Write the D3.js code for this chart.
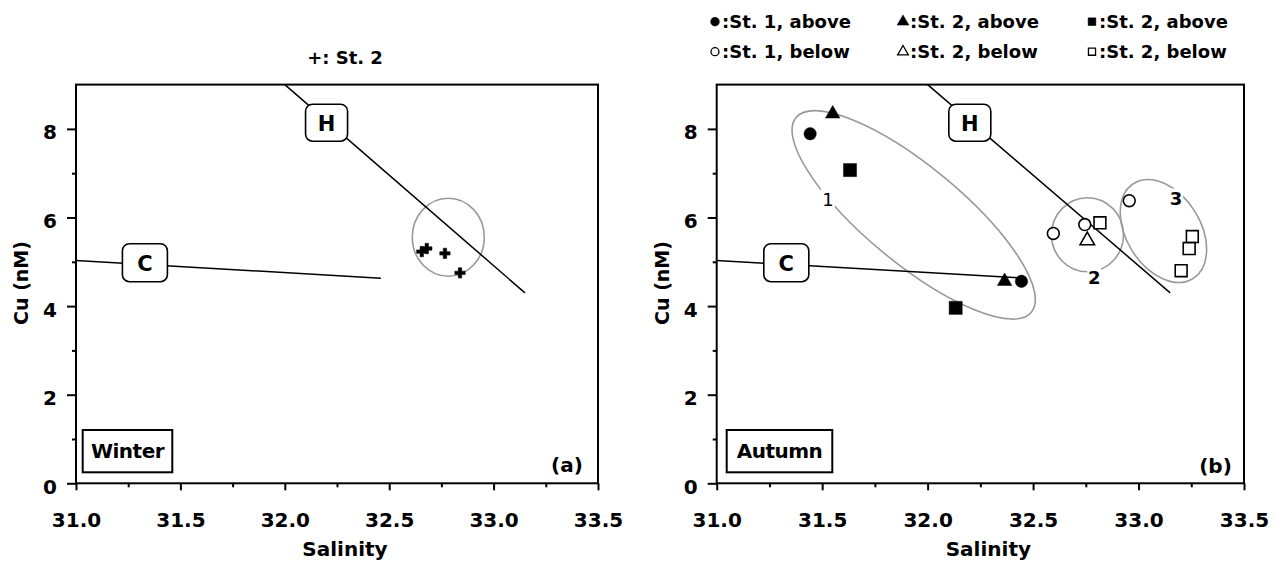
<!DOCTYPE html>
<html><head><meta charset="utf-8">
<script src="https://cdn.jsdelivr.net/npm/d3@7/dist/d3.min.js"></script>
<style>
body{margin:0;background:#fff;}
text{font-family:"DejaVu Sans",sans-serif;font-weight:bold;fill:#000;}
</style>
</head><body>
<svg id="c" width="1284" height="565"></svg>
<script>
// ---------- data ----------
const xTicks = [31.0, 31.5, 32.0, 32.5, 33.0, 33.5];
const xMinor = [31.25, 31.75, 32.25, 32.75, 33.25];
const yTicks = [0, 2, 4, 6, 8];
const yMinor = [1, 3, 5, 7];

// Winter, St. 2 (+)
const winterSal = [32.656, 32.680, 32.767, 32.839];
const winterCu  = [5.23, 5.30, 5.19, 4.75];

// Autumn
const st1AboveSal = [31.443, 32.445];
const st1AboveCu  = [7.89, 4.56];
const st2AboveTriSal = [31.550, 32.365];
const st2AboveTriCu  = [8.34, 4.56];
const st2AboveSqSal = [31.632, 32.133];
const st2AboveSqCu  = [7.07, 3.96];
const st1BelowSal = [32.596, 32.745, 32.956];
const st1BelowCu  = [5.64, 5.84, 6.38];
const st2BelowTriSal = [32.757];
const st2BelowTriCu  = [5.48];
const st2BelowSqSal = [32.817, 33.255, 33.240, 33.202];
const st2BelowSqCu  = [5.88, 5.57, 5.30, 4.80];

// mixing lines
const hLineSal = [32.0, 33.15];
const hLineCu  = [9.0, 4.3];
const cLineSal = [31.0, 32.46];
const cLineCu  = [5.03, 4.63];

// end-member labels
const endLabels = ["H", "C"];
const endLabelSal = [32.20, 31.33];
const endLabelCu  = [8.14, 4.98];

// group labels (autumn)
const groupLabels = ["1", "2", "3"];
const groupSal = [31.527, 32.790, 33.178];
const groupCu  = [6.42, 4.65, 6.43];

// ellipse centres (data)
const winterEllSal = [32.783];
const winterEllCu  = [5.555];
const autumnEllSal = [31.934, 32.758, 33.118];
const autumnEllCu  = [6.06, 5.61, 5.695];

const legendLabels = [":St. 1, above", ":St. 2, above", ":St. 2, above",
                      ":St. 1, below", ":St. 2, below", ":St. 2, below"];

// ---------- drawing ----------
const svg = d3.select("#c");
const yDom = [0, 9];
const yRange = [483.3, 84.6];

function makePanel(x0, x1) {
  const x = d3.scaleLinear().domain([31, 33.5]).range([x0, x1]);
  const y = d3.scaleLinear().domain(yDom).range(yRange);
  const g = svg.append("g");
  // axes
  const xa = g.append("g").attr("transform", `translate(0,${yRange[0]})`)
    .call(d3.axisBottom(x).tickValues(xTicks).tickFormat(d3.format(".1f")).tickSize(7).tickPadding(23));
  const xm = g.append("g").attr("transform", `translate(0,${yRange[0]})`)
    .call(d3.axisBottom(x).tickValues(xMinor).tickFormat("").tickSize(4));
  const ya = g.append("g").attr("transform", `translate(${x0},0)`)
    .call(d3.axisLeft(y).tickValues(yTicks).tickFormat(d3.format("d")).tickSize(9).tickPadding(10));
  const ym = g.append("g").attr("transform", `translate(${x0},0)`)
    .call(d3.axisLeft(y).tickValues(yMinor).tickFormat("").tickSize(4));
  [xa, xm, ya, ym].forEach(a => {
    a.select(".domain").remove();
    a.selectAll("line").attr("stroke", "#000").attr("stroke-width", 2);
    a.selectAll("text").style("font-size", "20px").style("font-family", "DejaVu Sans").style("font-weight", "bold");
  });
  ya.selectAll("text").attr("dy", "0.5em");
  // frame
  g.append("rect").attr("x", x0).attr("y", yRange[1]).attr("width", x1 - x0).attr("height", yRange[0] - yRange[1])
    .attr("fill", "none").attr("stroke", "#000").attr("stroke-width", 2);
  // axis titles
  g.append("text").attr("x", (x0 + x1) / 2 + 8).attr("y", 556).attr("text-anchor", "middle")
    .style("font-size", "20px").text("Salinity");
  g.append("text").attr("transform", `translate(${x0 - 48},${283}) rotate(-90)`).attr("text-anchor", "middle")
    .style("font-size", "19px").text("Cu (nM)");
  return {g, x, y};
}

function drawLines(p) {
  const line = d3.line().x(d => p.x(d[0])).y(d => p.y(d[1]));
  p.g.append("path").datum(d3.zip(hLineSal, hLineCu)).attr("d", line)
    .attr("fill", "none").attr("stroke", "#000").attr("stroke-width", 1.5);
  p.g.append("path").datum(d3.zip(cLineSal, cLineCu)).attr("d", line)
    .attr("fill", "none").attr("stroke", "#000").attr("stroke-width", 1.5);
  const sizes = [[42, 37], [45, 38]];
  endLabels.forEach((t, i) => {
    const cx = p.x(endLabelSal[i]), cy = p.y(endLabelCu[i]);
    const [w, h] = sizes[i];
    p.g.append("rect").attr("x", cx - w / 2).attr("y", cy - h / 2).attr("width", w).attr("height", h)
      .attr("rx", 7).attr("fill", "#fff").attr("stroke", "#000").attr("stroke-width", 1.6);
    p.g.append("text").attr("x", cx).attr("y", cy + 8).attr("text-anchor", "middle")
      .style("font-size", "21px").text(t);
  });
}

function seasonBox(p, x, y, w, h, label) {
  p.g.append("rect").attr("x", x).attr("y", y).attr("width", w).attr("height", h)
    .attr("fill", "#fff").attr("stroke", "#000").attr("stroke-width", 2);
  p.g.append("text").attr("x", x + w / 2).attr("y", y + h / 2 + 7).attr("text-anchor", "middle")
    .style("font-size", "20px").style("letter-spacing", "-0.5px").text(label);
}

function ellipse(p, sal, cu, rx, ry, ang) {
  p.g.append("ellipse").attr("cx", 0).attr("cy", 0).attr("rx", rx).attr("ry", ry)
    .attr("transform", `translate(${p.x(sal)},${p.y(cu)}) rotate(${ang})`)
    .attr("fill", "none").attr("stroke", "#999").attr("stroke-width", 1.6);
}

function points(p, sal, cu, type, size, filled) {
  const sym = d3.symbol().type(type).size(size);
  p.g.selectAll(null).data(d3.zip(sal, cu)).join("path")
    .attr("d", sym)
    .attr("transform", d => `translate(${p.x(d[0])},${p.y(d[1])})`)
    .attr("fill", filled ? "#000" : "#fff")
    .attr("stroke", "#000").attr("stroke-width", filled ? 0.5 : 1.6);
}

// ----- panel (a) Winter -----
const pa = makePanel(76, 598);
ellipse(pa, winterEllSal[0], winterEllCu[0], 36, 39, 0);
drawLines(pa);
points(pa, winterSal, winterCu, d3.symbolCross, 60, true);
seasonBox(pa, 82.7, 430, 89.6, 42.3, "Winter");
pa.g.append("text").attr("x", 567).attr("y", 472).attr("text-anchor", "middle").style("font-size", "20px").text("(a)");
svg.append("text").attr("x", 345).attr("y", 64).attr("text-anchor", "middle").style("font-size", "18px").text("+: St. 2");

// ----- panel (b) Autumn -----
const pb = makePanel(716.7, 1244);
ellipse(pb, autumnEllSal[0], autumnEllCu[0], 152.7, 48.4, 39.6);
ellipse(pb, autumnEllSal[1], autumnEllCu[1], 36, 37, 0);
ellipse(pb, autumnEllSal[2], autumnEllCu[2], 56, 37, 58);
drawLines(pb);
groupLabels.forEach((t, i) => {
  const cx = pb.x(groupSal[i]), cy = pb.y(groupCu[i]);
  pb.g.append("rect").attr("x", cx - 7).attr("y", cy - 10).attr("width", 14).attr("height", 20).attr("fill", "#fff");
  pb.g.append("text").attr("x", cx).attr("y", cy + 7).attr("text-anchor", "middle")
    .style("font-size", "18px").style("font-weight", i === 0 ? "normal" : "bold").text(t);
});
points(pb, st1AboveSal, st1AboveCu, d3.symbolCircle, 120, true);
points(pb, st2AboveTriSal, st2AboveTriCu, d3.symbolTriangle, 90, true);
points(pb, st2AboveSqSal, st2AboveSqCu, d3.symbolSquare, 170, true);
points(pb, st1BelowSal, st1BelowCu, d3.symbolCircle, 110, false);
points(pb, st2BelowTriSal, st2BelowTriCu, d3.symbolTriangle, 90, false);
points(pb, st2BelowSqSal, st2BelowSqCu, d3.symbolSquare, 140, false);
seasonBox(pb, 726.7, 430, 105.6, 42.3, "Autumn");
pb.g.append("text").attr("x", 1215.5).attr("y", 473).attr("text-anchor", "middle").style("font-size", "20px").text("(b)");

// legend
const legTypes = [d3.symbolCircle, d3.symbolTriangle, d3.symbolSquare, d3.symbolCircle, d3.symbolTriangle, d3.symbolSquare];
const legX = [715, 903, 1092];
const legY = [21.7, 51.7];
legendLabels.forEach((t, i) => {
  const col = i % 3, row = Math.floor(i / 3);
  const filled = row === 0;
  svg.append("path").attr("d", d3.symbol().type(legTypes[i]).size(filled ? 60 : 50)())
    .attr("transform", `translate(${legX[col]},${legY[row]})`)
    .attr("fill", filled ? "#000" : "#fff").attr("stroke", "#000").attr("stroke-width", filled ? 0.5 : 1.3);
  svg.append("text").attr("x", legX[col] + 7).attr("y", legY[row] + 6.5).style("font-size", "18px").text(t);
});
</script>
</body></html>
